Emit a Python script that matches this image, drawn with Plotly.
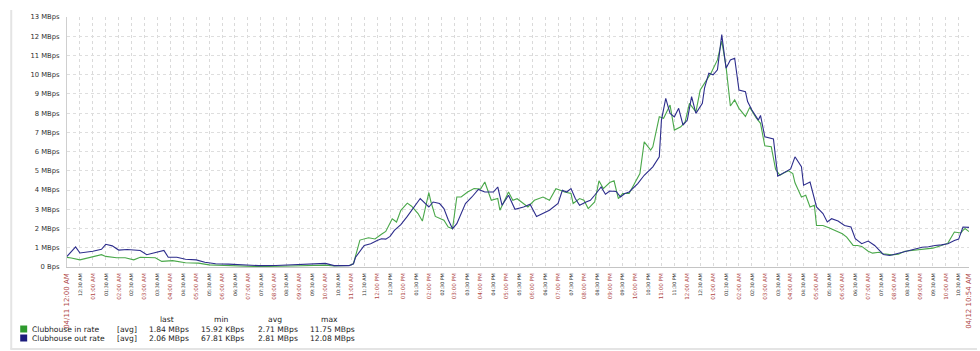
import plotly.graph_objects as go
import pandas as pd

# ---------------- data ----------------
START = pd.Timestamp("2021-04-11 00:00")
END_MINUTE = 2094  # 04/12 10:54 AM

in_minutes = [0, 10, 30, 60, 80, 90, 115, 135, 155, 170, 190, 205, 220, 245, 275, 305, 330, 370, 415, 445,
              520, 600, 620, 655, 665, 680, 700, 715, 730, 740, 755, 765, 775, 790, 800, 815, 825, 840, 845, 855,
              875, 885, 895, 905, 915, 930, 945, 960, 970, 985, 1000, 1005, 1025, 1035, 1045, 1055, 1070, 1085,
              1105, 1120, 1135, 1150, 1155, 1170, 1175, 1190, 1200, 1210, 1225, 1235, 1245, 1260, 1270, 1280,
              1290, 1305, 1320, 1330, 1340, 1355, 1360, 1375, 1385, 1400, 1410, 1425, 1435, 1445, 1460, 1470,
              1485, 1495, 1510, 1520, 1530, 1540, 1550, 1560, 1575, 1585, 1600, 1610, 1620, 1635, 1645, 1655,
              1665, 1675, 1685, 1690, 1705, 1715, 1725, 1735, 1740, 1755, 1770, 1785, 1800, 1810, 1825, 1835,
              1845, 1860, 1870, 1885, 1895, 1915, 1930, 1945, 1960, 1975, 1990, 2010, 2030, 2045, 2060, 2075,
              2080, 2085, 2094]
in_mbps = [0.50, 0.47, 0.37, 0.51, 0.64, 0.55, 0.48, 0.48, 0.37, 0.51, 0.49, 0.48, 0.29, 0.33, 0.22, 0.20,
           0.11, 0.08, 0.05, 0.02, 0.05, 0.10, 0.05, 0.08, 0.17, 1.40, 1.52, 1.46, 1.70, 1.85, 2.51, 2.34,
           2.95, 3.32, 3.16, 2.78, 2.39, 3.87, 3.38, 2.63, 2.43, 2.08, 1.99, 3.64, 3.64, 3.90, 4.08, 4.05,
           4.42, 3.47, 3.56, 2.95, 3.90, 3.47, 3.55, 3.38, 3.12, 3.47, 3.64, 3.47, 4.07, 3.95, 3.90, 3.82,
           3.30, 3.56, 3.47, 3.04, 3.38, 4.48, 4.08, 4.39, 4.48, 3.56, 3.82, 3.82, 4.42, 4.86, 6.51, 6.08,
           6.25, 7.81, 7.73, 8.42, 7.12, 7.29, 7.55, 8.51, 8.07, 9.20, 9.73, 10.08, 10.77, 11.75, 10.42, 8.37,
           8.69, 8.25, 7.83, 8.30, 7.75, 7.47, 6.30, 6.25, 5.08, 4.77, 4.90, 5.00, 4.86, 4.38, 3.64, 3.73,
           3.12, 3.21, 2.16, 2.16, 2.03, 1.90, 1.73, 1.55, 1.12, 1.12, 1.07, 0.82, 0.72, 0.77, 0.69, 0.63,
           0.66, 0.82, 0.86, 0.90, 0.95, 0.98, 1.12, 1.24, 1.82, 1.77, 1.90, 2.00, 1.84]

out_minutes = [0, 20, 30, 60, 80, 90, 105, 120, 140, 170, 185, 215, 225, 235, 255, 275, 300, 320, 345, 375,
               400, 445, 485, 520, 555, 600, 620, 655, 665, 670, 690, 705, 720, 730, 740, 750, 760, 775, 790,
               810, 820, 840, 850, 865, 875, 885, 895, 905, 925, 940, 955, 970, 990, 1000, 1010, 1025, 1040,
               1060, 1075, 1090, 1105, 1120, 1140, 1150, 1160, 1170, 1180, 1190, 1205, 1215, 1225, 1240, 1250,
               1260, 1275, 1285, 1295, 1305, 1325, 1340, 1360, 1375, 1380, 1390, 1400, 1410, 1420, 1430, 1440,
               1450, 1460, 1475, 1480, 1490, 1500, 1510, 1520, 1530, 1540, 1550, 1560, 1575, 1580, 1590, 1605,
               1610, 1620, 1640, 1650, 1670, 1680, 1690, 1705, 1710, 1725, 1740, 1755, 1765, 1775, 1790, 1805,
               1820, 1830, 1845, 1860, 1875, 1895, 1910, 1925, 1940, 1955, 1970, 1985, 2000, 2015, 2030, 2045,
               2060, 2070, 2080, 2094]
out_mbps = [0.55, 1.05, 0.73, 0.82, 0.92, 1.18, 1.10, 0.88, 0.91, 0.86, 0.64, 0.83, 0.86, 0.51, 0.51, 0.40,
            0.37, 0.25, 0.17, 0.15, 0.12, 0.07, 0.08, 0.11, 0.17, 0.19, 0.07, 0.07, 0.17, 0.51, 1.12, 1.21,
            1.38, 1.47, 1.45, 1.59, 1.90, 2.20, 2.63, 3.21, 3.56, 3.12, 3.38, 3.30, 3.04, 2.46, 1.99, 2.25,
            3.30, 3.64, 4.03, 3.90, 3.90, 4.16, 3.21, 3.73, 3.00, 3.12, 3.26, 2.63, 2.78, 2.95, 3.30, 3.99,
            3.90, 4.08, 3.56, 3.21, 3.38, 3.47, 3.73, 4.16, 3.78, 3.95, 3.93, 3.64, 3.82, 3.90, 4.34, 4.77,
            5.21, 5.73, 7.64, 8.77, 7.99, 7.81, 8.25, 7.38, 7.64, 8.86, 7.99, 8.51, 9.30, 10.08, 9.99, 10.25,
            12.08, 10.34, 10.77, 10.86, 9.20, 9.12, 8.60, 8.16, 7.64, 7.88, 6.77, 6.66, 4.72, 5.00, 5.10, 5.73,
            5.21, 4.25, 4.42, 3.12, 2.78, 2.34, 2.51, 2.39, 2.16, 2.08, 1.47, 1.21, 1.35, 1.12, 0.65, 0.60,
            0.69, 0.78, 0.86, 0.95, 1.03, 1.05, 1.12, 1.15, 1.21, 1.38, 1.45, 2.08, 2.06]

y_tick_values = list(range(0, 14))
y_tick_labels = ["0 Bps"] + [f"{v} MBps" for v in range(1, 14)]

legend_names = ["Clubhouse in rate", "Clubhouse out rate"]
legend_funcs = ["[avg]", "[avg]"]
stat_headers = ["last", "min", "avg", "max"]
in_stats = ["1.84 MBps", "15.92 KBps", "2.71 MBps", "11.75 MBps"]
out_stats = ["2.06 MBps", "67.81 KBps", "2.81 MBps", "12.08 MBps"]

IN_COLOR = "#4aa84a"
OUT_COLOR = "#2d2d8c"
IN_SWATCH = "#2e9a2e"
OUT_SWATCH = "#1c1c7c"
RED = "#b04848"

# ---------------- layout geometry ----------------
W, H = 980, 351
ML, MR, MT, MB = 67, 7, 17, 84
PW, PH = W - ML - MR, H - MT - MB


def pxx(x):
    return (x - ML) / PW


def pxy(y):
    return (H - MB - y) / PH


def to_time(mins):
    return [START + pd.Timedelta(minutes=m) for m in mins]


end_time = START + pd.Timedelta(minutes=END_MINUTE)

# x ticks every 30 minutes + end stamp
tick_vals = []
tick_text = []
for i in range(0, END_MINUTE // 30 + 1):
    t = START + pd.Timedelta(minutes=30 * i)
    tick_vals.append(t)
    if i == 0:
        tick_text.append(f"<span style='color:{RED};font-size:7px'>{t.strftime('%m/%d %I:%M %p')}</span>")
    elif t.minute == 0:
        tick_text.append(f"<span style='color:{RED};font-size:5.6px'>{t.strftime('%I:%M %p')}</span>")
    else:
        tick_text.append(f"<span style='color:#333;font-size:4.8px'>{t.strftime('%I:%M %p')}</span>")
tick_vals.append(end_time)
tick_text.append(f"<span style='color:{RED};font-size:7px'>{end_time.strftime('%m/%d %I:%M %p')}</span>")

fig = go.Figure()
fig.add_trace(go.Scatter(x=to_time(in_minutes), y=in_mbps, mode="lines", name=legend_names[0],
                         line=dict(color=IN_COLOR, width=1.1), showlegend=False))
fig.add_trace(go.Scatter(x=to_time(out_minutes), y=out_mbps, mode="lines", name=legend_names[1],
                         line=dict(color=OUT_COLOR, width=1.1), showlegend=False))

fig.update_layout(
    width=W, height=H,
    margin=dict(l=ML, r=MR, t=MT, b=MB, pad=0),
    paper_bgcolor="white", plot_bgcolor="white",
    font=dict(family="DejaVu Sans", color="#333"),
)
fig.update_xaxes(
    type="date", range=[START, end_time],
    tickmode="array", tickvals=tick_vals, ticktext=tick_text,
    tickangle=-90, tickfont=dict(size=5.6, family="DejaVu Sans", color="#333"),
    showgrid=True, gridcolor="#dadada", griddash="dot", gridwidth=1,
    showline=True, linecolor="#c4c4c4", linewidth=1,
    ticks="", ticklabelstandoff=3, zeroline=False,
)
fig.update_yaxes(
    range=[0, 13], tickmode="array", tickvals=y_tick_values, ticktext=y_tick_labels,
    tickfont=dict(size=6.8, family="DejaVu Sans", color="#333"),
    showgrid=True, gridcolor="#dedede", griddash="dot", gridwidth=1,
    showline=True, linecolor="#cfcfcf", linewidth=1,
    ticks="", ticklabelstandoff=5, zeroline=False,
)

shapes = []
annotations = []
# frame lines (light gray)
shapes.append(dict(type="line", xref="paper", yref="paper", x0=pxx(11), x1=pxx(11), y0=pxy(10), y1=pxy(349),
                   line=dict(color="#e4e4e4", width=2)))
shapes.append(dict(type="line", xref="paper", yref="paper", x0=pxx(10), x1=pxx(981), y0=pxy(349), y1=pxy(349),
                   line=dict(color="#e4e4e4", width=2)))

# legend swatches
for yc, col in [(329, IN_SWATCH), (338, OUT_SWATCH)]:
    shapes.append(dict(type="rect", xref="paper", yref="paper", x0=pxx(20), x1=pxx(27), y0=pxy(yc - 3.5),
                       y1=pxy(yc + 3.5), fillcolor=col, line=dict(width=0)))

LF = dict(family="DejaVu Sans", size=7.6, color="#222")
header_x = [167, 222, 276, 331]
value_x = [147, 200, 257, 309]
for hx, txt in zip(header_x, stat_headers):
    annotations.append(dict(xref="paper", yref="paper", x=pxx(hx), y=pxy(319), text=txt, showarrow=False,
                            xanchor="center", yanchor="middle", font=LF))
for yc, name, fn, stats in [(329, legend_names[0], legend_funcs[0], in_stats),
                            (338, legend_names[1], legend_funcs[1], out_stats)]:
    annotations.append(dict(xref="paper", yref="paper", x=pxx(30), y=pxy(yc), text=name, showarrow=False,
                            xanchor="left", yanchor="middle", font=LF))
    annotations.append(dict(xref="paper", yref="paper", x=pxx(115), y=pxy(yc), text=fn, showarrow=False,
                            xanchor="left", yanchor="middle", font=LF))
    for vx, s in zip(value_x, stats):
        annotations.append(dict(xref="paper", yref="paper", x=pxx(vx), y=pxy(yc), text=s, showarrow=False,
                                xanchor="left", yanchor="middle", font=LF))

fig.update_layout(shapes=shapes, annotations=annotations)
fig.write_html("out.html")
